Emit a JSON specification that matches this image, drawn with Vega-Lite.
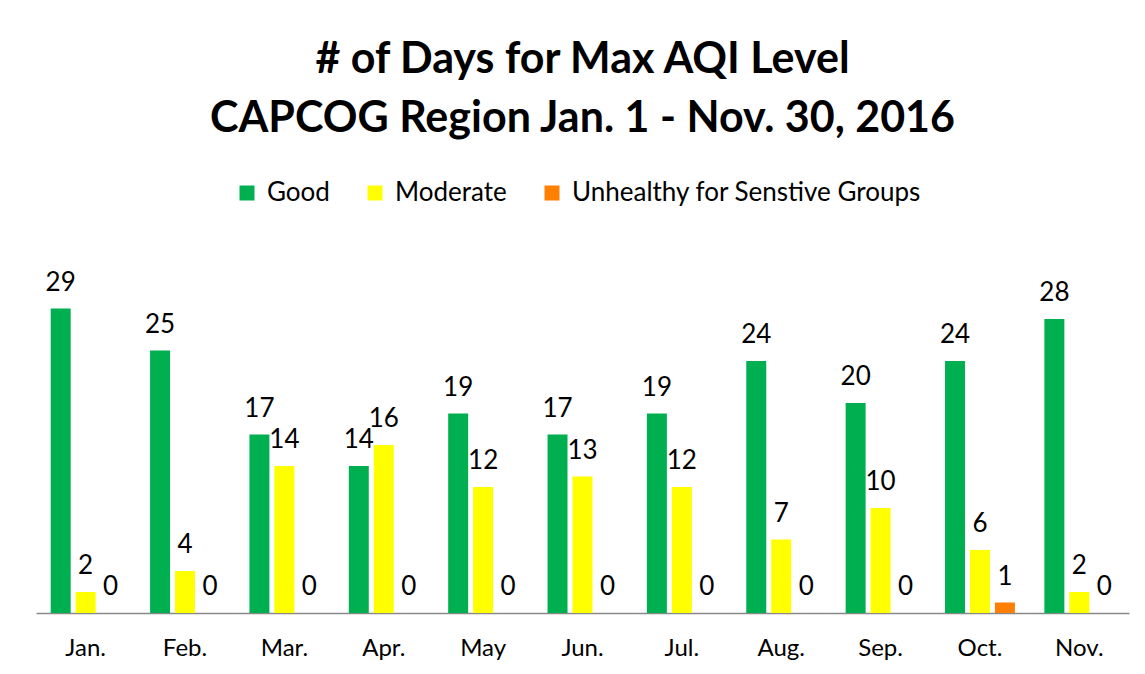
{
  "$schema": "https://vega.github.io/schema/vega-lite/v6.json",
  "autosize": "none",
  "width": 1093,
  "height": 315,
  "padding": {"left": 36, "top": 298, "right": 16, "bottom": 61},
  "background": "white",
  "config": {"view": {"stroke": null}},
  "title": {
    "text": ["# of Days for Max AQI Level", "CAPCOG Region Jan. 1 - Nov. 30, 2016"],
    "font": "Lato",
    "fontSize": 43,
    "fontWeight": "bold",
    "color": "black",
    "lineHeight": 59,
    "anchor": "middle",
    "baseline": "alphabetic",
    "offset": 5
  },
  "data": {
    "values": [
      {"month": "Jan.", "level": "Good", "days": 29},
      {"month": "Jan.", "level": "Moderate", "days": 2},
      {"month": "Jan.", "level": "Unhealthy for Senstive Groups", "days": 0},
      {"month": "Feb.", "level": "Good", "days": 25},
      {"month": "Feb.", "level": "Moderate", "days": 4},
      {"month": "Feb.", "level": "Unhealthy for Senstive Groups", "days": 0},
      {"month": "Mar.", "level": "Good", "days": 17},
      {"month": "Mar.", "level": "Moderate", "days": 14},
      {"month": "Mar.", "level": "Unhealthy for Senstive Groups", "days": 0},
      {"month": "Apr.", "level": "Good", "days": 14},
      {"month": "Apr.", "level": "Moderate", "days": 16},
      {"month": "Apr.", "level": "Unhealthy for Senstive Groups", "days": 0},
      {"month": "May", "level": "Good", "days": 19},
      {"month": "May", "level": "Moderate", "days": 12},
      {"month": "May", "level": "Unhealthy for Senstive Groups", "days": 0},
      {"month": "Jun.", "level": "Good", "days": 17},
      {"month": "Jun.", "level": "Moderate", "days": 13},
      {"month": "Jun.", "level": "Unhealthy for Senstive Groups", "days": 0},
      {"month": "Jul.", "level": "Good", "days": 19},
      {"month": "Jul.", "level": "Moderate", "days": 12},
      {"month": "Jul.", "level": "Unhealthy for Senstive Groups", "days": 0},
      {"month": "Aug.", "level": "Good", "days": 24},
      {"month": "Aug.", "level": "Moderate", "days": 7},
      {"month": "Aug.", "level": "Unhealthy for Senstive Groups", "days": 0},
      {"month": "Sep.", "level": "Good", "days": 20},
      {"month": "Sep.", "level": "Moderate", "days": 10},
      {"month": "Sep.", "level": "Unhealthy for Senstive Groups", "days": 0},
      {"month": "Oct.", "level": "Good", "days": 24},
      {"month": "Oct.", "level": "Moderate", "days": 6},
      {"month": "Oct.", "level": "Unhealthy for Senstive Groups", "days": 1},
      {"month": "Nov.", "level": "Good", "days": 28},
      {"month": "Nov.", "level": "Moderate", "days": 2},
      {"month": "Nov.", "level": "Unhealthy for Senstive Groups", "days": 0}
    ]
  },
  "encoding": {
    "x": {
      "field": "month",
      "type": "nominal",
      "sort": ["Jan.", "Feb.", "Mar.", "Apr.", "May", "Jun.", "Jul.", "Aug.", "Sep.", "Oct.", "Nov."],
      "scale": {"paddingInner": 0.2965, "paddingOuter": 0.148},
      "title": null,
      "axis": {
        "labelAngle": 0,
        "labelFont": "Lato",
        "labelFontSize": 24,
        "labelColor": "black",
        "labelPadding": 23,
        "ticks": false,
        "domainColor": "#898989",
        "domainWidth": 1.5,
        "grid": false
      }
    },
    "xOffset": {
      "field": "level",
      "type": "nominal",
      "sort": ["Good", "Moderate", "Unhealthy for Senstive Groups"],
      "scale": {"paddingInner": 0.2, "paddingOuter": 0}
    },
    "y": {
      "field": "days",
      "type": "quantitative",
      "scale": {"domain": [0, 30], "nice": false},
      "axis": null
    }
  },
  "layer": [
    {
      "mark": {"type": "bar"},
      "encoding": {
        "color": {
          "field": "level",
          "type": "nominal",
          "scale": {
            "domain": ["Good", "Moderate", "Unhealthy for Senstive Groups"],
            "range": ["#00B050", "#FFFF00", "#FF7F00"]
          },
          "legend": {
            "title": null,
            "orient": "none",
            "direction": "horizontal",
            "legendX": 198,
            "legendY": -118,
            "symbolType": "square",
            "symbolSize": 225,
            "symbolStrokeWidth": 0,
            "labelFont": "Lato",
            "labelFontSize": 26,
            "labelColor": "black",
            "labelOffset": 7,
            "labelLimit": 0,
            "columnPadding": 32
          }
        }
      }
    },
    {
      "mark": {"type": "text", "baseline": "alphabetic", "dy": -18, "font": "Lato", "fontSize": 26, "color": "black"},
      "encoding": {
        "text": {"field": "days", "type": "quantitative"}
      }
    }
  ]
}
